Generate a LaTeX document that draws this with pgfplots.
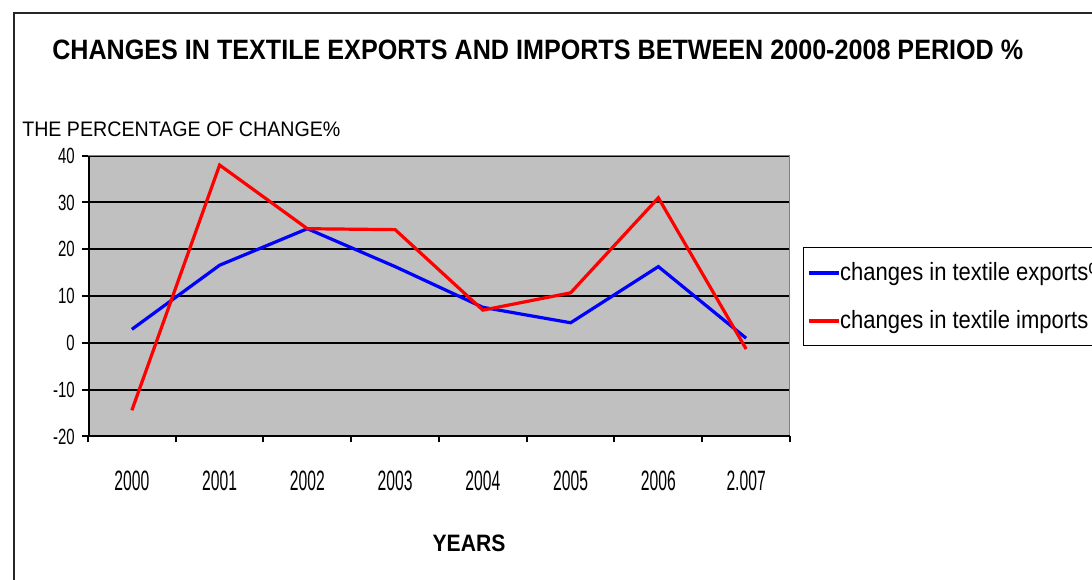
\documentclass[border=0pt]{standalone}
\usepackage{pgfplots}
\pgfplotsset{compat=1.18}
\usepackage{pgfplotstable}
\usepackage{fontspec}
\setmainfont{Liberation Sans}
\newfontfamily\titlefont[FakeStretch=0.898]{Liberation Sans Bold}
\newfontfamily\labfont[FakeStretch=0.935]{Liberation Sans}
\newfontfamily\legfont[FakeStretch=0.88]{Liberation Sans}
\newfontfamily\yearsfont[FakeStretch=0.89]{Liberation Sans Bold}
\newfontfamily\xtfont[FakeStretch=0.56]{Liberation Sans}
\newfontfamily\ytfont[FakeStretch=0.68]{Liberation Sans}
\definecolor{plotgray}{RGB}{192,192,192}
\definecolor{axgray}{RGB}{128,128,128}

\pgfplotstableread{
x exp imp
0 2.9 -14.4
1 16.6 38.0
2 24.4 24.4
3 16.3 24.2
4 7.6 7.0
5 4.3 10.7
6 16.3 31.0
7 1.0 -1.3
}\datatable

\begin{document}
\begin{tikzpicture}
\begin{scope}[x=0.75pt,y=-0.75pt]
\useasboundingbox (0,0) rectangle (1092,580);
\clip (0,0) rectangle (1092,580);
\fill[white] (0,0) rectangle (1092,580);
\draw[line width=1.5pt, black!85] (14,13) rectangle (1130,640);
\node[anchor=base west, inner sep=0pt, font=\titlefont\fontsize{21}{25}\selectfont] at (52,60) {CHANGES IN TEXTILE EXPORTS AND IMPORTS BETWEEN 2000-2008 PERIOD \%};
\node[anchor=base west, inner sep=0pt, font=\labfont\fontsize{15.75}{18}\selectfont] at (22,137) {THE PERCENTAGE OF CHANGE\%};
\node[anchor=base, inner sep=0pt, font=\yearsfont\fontsize{17.8}{20}\selectfont] at (469,551) {YEARS};
\end{scope}
\clip (0pt,0pt) rectangle (819pt,-435pt);
\begin{axis}[
  at={(66pt,-327.375pt)}, anchor=south west,
  scale only axis, width=526.5pt, height=210.6pt,
  xmin=-0.5, xmax=7.5, ymin=-20, ymax=40,
  axis background/.style={fill=plotgray},
  axis line style={draw=axgray, line width=0.75pt},
  ytick={-20,-10,0,10,20,30,40},
  yticklabels={-20,-10,0,10,20,30,40},
  ymajorgrids, major grid style={black, line width=1.5pt},
  xtick={-0.5,0.5,...,7.5}, xticklabels={},
  extra x ticks={0,1,...,7},
  extra x tick labels={2000,2001,2002,2003,2004,2005,2006,2.007},
  extra x tick style={major tick length=0pt, grid=none,
    tick label style={font=\xtfont\fontsize{21}{24}\selectfont, anchor=base, yshift=-40.6pt, inner sep=0pt}},
  tick align=outside, xtick pos=left, ytick pos=left,
  major tick length=4.5pt,
  tick style={black, line width=1.5pt},
  yticklabel style={font=\ytfont\fontsize{16.5}{18}\selectfont, anchor=east, inner sep=0pt, xshift=-5.25pt},
  legend style={at={(axis description cs:1.0185,0.6749)}, anchor=north west,
    draw=black, line width=0.9pt, fill=white, inner xsep=2.5pt, inner ysep=2.25pt,
    row sep=3pt, column sep=0pt,
    font=\legfont\fontsize{18.75}{22}\selectfont,
    nodes={inner sep=0pt, text height=22.1pt, text depth=10.9pt}},
  legend cell align=left,
  legend image code/.code={\draw[#1] (0pt,-0.35pt) -- (22.5pt,-0.35pt);},
]
\addplot[color=blue, line width=2.4pt] table[x=x,y=exp] {\datatable};
\addlegendentry{changes in textile exports\%}
\addplot[color=red, line width=2.4pt] table[x=x,y=imp] {\datatable};
\addlegendentry{changes in textile imports \%}
\draw[black, line width=2.25pt] (rel axis cs:0,1) -- (rel axis cs:0,0) -- (rel axis cs:1,0);
\end{axis}
\end{tikzpicture}
\end{document}
